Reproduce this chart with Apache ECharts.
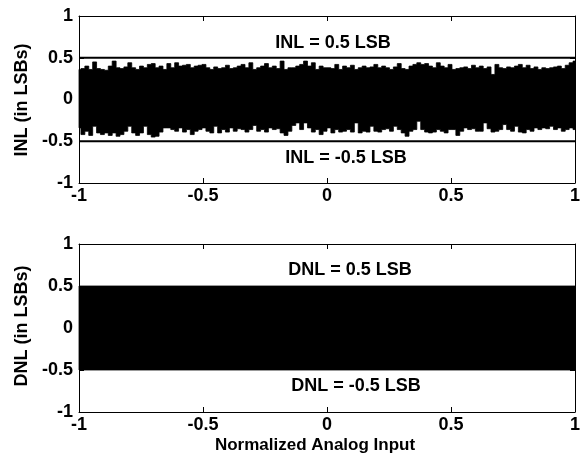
<!DOCTYPE html>
<html>
<head>
<meta charset="utf-8">
<script src="https://cdn.jsdelivr.net/npm/echarts@6/dist/echarts.min.js"></script>
<style>
html,body{margin:0;padding:0;background:#fff;}
#c{width:583px;height:460px;}
</style>
</head>
<body>
<div id="c"></div>
<script>
// ---- data ----
var xTicks = [-1, -0.5, 0, 0.5, 1];
var yTicks = [-1, -0.5, 0, 0.5, 1];
// INL: upper and lower envelope of the dense INL trace (LSB), sampled evenly over x = -1..1
var inlUpper = [0.36,0.37,0.40,0.36,0.45,0.37,0.36,0.35,0.40,0.46,0.38,0.37,0.39,0.44,0.38,0.36,0.40,0.38,0.42,0.43,0.38,0.40,0.36,0.43,0.38,0.44,0.40,0.41,0.42,0.38,0.40,0.41,
  0.42,0.38,0.36,0.39,0.37,0.38,0.41,0.37,0.38,0.40,0.42,0.38,0.44,0.36,0.38,0.40,0.43,0.38,0.40,0.37,0.46,0.36,0.38,0.38,0.40,0.42,0.46,0.40,0.44,0.36,0.40,0.38,
  0.38,0.37,0.42,0.36,0.40,0.38,0.41,0.36,0.38,0.40,0.38,0.39,0.42,0.38,0.40,0.38,0.36,0.39,0.43,0.37,0.36,0.40,0.42,0.44,0.42,0.43,0.40,0.38,0.44,0.40,0.38,0.42,
  0.36,0.37,0.38,0.39,0.37,0.41,0.38,0.40,0.37,0.39,0.30,0.42,0.38,0.37,0.39,0.38,0.40,0.42,0.38,0.41,0.37,0.39,0.36,0.38,0.37,0.38,0.39,0.40,0.37,0.41,0.44,0.46];
var inlLower = [-0.34,-0.42,-0.38,-0.43,-0.32,-0.40,-0.42,-0.40,-0.43,-0.40,-0.44,-0.42,-0.38,-0.32,-0.40,-0.43,-0.40,-0.32,-0.42,-0.45,-0.44,-0.39,-0.34,-0.34,-0.36,-0.38,-0.34,-0.39,-0.36,-0.42,-0.38,-0.36,
  -0.34,-0.38,-0.40,-0.32,-0.40,-0.36,-0.39,-0.34,-0.38,-0.35,-0.36,-0.39,-0.36,-0.31,-0.38,-0.36,-0.39,-0.34,-0.36,-0.35,-0.40,-0.43,-0.38,-0.31,-0.28,-0.36,-0.28,-0.34,-0.39,-0.36,-0.42,-0.38,
  -0.34,-0.40,-0.36,-0.39,-0.38,-0.36,-0.39,-0.28,-0.40,-0.38,-0.39,-0.32,-0.38,-0.39,-0.36,-0.35,-0.38,-0.32,-0.36,-0.40,-0.44,-0.38,-0.36,-0.26,-0.36,-0.39,-0.40,-0.39,-0.36,-0.38,-0.40,-0.36,
  -0.36,-0.43,-0.38,-0.34,-0.36,-0.35,-0.38,-0.38,-0.28,-0.35,-0.39,-0.38,-0.36,-0.30,-0.36,-0.38,-0.32,-0.39,-0.40,-0.36,-0.38,-0.34,-0.36,-0.34,-0.35,-0.32,-0.36,-0.34,-0.38,-0.36,-0.34,-0.36];
var inlLimits = [0.5, -0.5];
// DNL: dense trace fills the band between these envelopes
var dnlX = [-1, 1];
var dnlUpper = [0.5, 0.5];
var dnlLower = [-0.5, -0.5];
var labels = {
  inlHi: 'INL = 0.5 LSB', inlLo: 'INL = -0.5 LSB',
  dnlHi: 'DNL = 0.5 LSB', dnlLo: 'DNL = -0.5 LSB',
  inlY: 'INL (in LSBs)', dnlY: 'DNL (in LSBs)', x: 'Normalized Analog Input'
};

// ---- build ----
var FONT = '"Liberation Sans", Arial, Helvetica, sans-serif';
var n = inlUpper.length;
var inlX = inlUpper.map(function(v,i){ return -1 + 2 * i / (n - 1); });

function xAx(grid, pos, showLabel){
  return {type:'value', gridIndex:grid, position:pos, min:-1, max:1, interval:0.5,
    axisLine:{show:true, onZero:false, lineStyle:{color:'#000', width:1}},
    axisTick:{show:true, inside:true, length:5, lineStyle:{color:'#000'}},
    axisLabel:{show:showLabel, color:'#000', fontFamily:FONT, fontWeight:'bold', fontSize:18, margin:4},
    splitLine:{show:false}, z:5};
}
function yAx(grid, pos, showLabel){
  return {type:'value', gridIndex:grid, position:pos, min:-1, max:1, interval:0.5,
    axisLine:{show:true, onZero:false, lineStyle:{color:'#000', width:1}},
    axisTick:{show:true, inside:true, length:5, lineStyle:{color:'#000'}},
    axisLabel:{show:showLabel, color:'#000', fontFamily:FONT, fontWeight:'bold', fontSize:18, margin:6},
    splitLine:{show:false}, z:5};
}
// filled envelope band drawn as one stepped polygon through the axis scales
function band(xs, up, lo, xi, yi, stepped){
  var rows = xs.map(function(x,i){ return [x, up[i], lo[i]]; });
  return {type:'custom', xAxisIndex:xi, yAxisIndex:yi, silent:true, animation:false,
    data: rows, encode:{x:0, y:[1,2]},
    renderItem: function(params, api){
      if (params.dataIndex !== 0) return null;
      var m = rows.length, pts = [];
      function edges(i){
        var a = i > 0 ? (rows[i-1][0] + rows[i][0]) / 2 : rows[i][0];
        var b = i < m - 1 ? (rows[i][0] + rows[i+1][0]) / 2 : rows[i][0];
        return [a, b];
      }
      for (var i = 0; i < m; i++) {
        if (stepped) { var e = edges(i); pts.push(api.coord([e[0], rows[i][1]])); pts.push(api.coord([e[1], rows[i][1]])); }
        else pts.push(api.coord([rows[i][0], rows[i][1]]));
      }
      for (var j = m - 1; j >= 0; j--) {
        if (stepped) { var f = edges(j); pts.push(api.coord([f[1], rows[j][2]])); pts.push(api.coord([f[0], rows[j][2]])); }
        else pts.push(api.coord([rows[j][0], rows[j][2]]));
      }
      return {type:'polygon', shape:{points:pts},
        style:{fill:'#000', stroke:'#000', lineWidth:0.8}};
    }};
}
function hline(v, xi, yi){
  return {type:'line', xAxisIndex:xi, yAxisIndex:yi, data:[[-1,v],[1,v]], symbol:'none', silent:true,
    lineStyle:{color:'#000', width:2}, animation:false, z:3};
}
function txt(t, x, y, rot, size){
  return {type:'text', x:x, y:y, rotation:rot||0, silent:true,
    style:{text:t, fill:'#000', font:'bold ' + (size||18) + 'px ' + FONT, align:'center', verticalAlign:'middle'}};
}

var option = {
  backgroundColor:'#fff',
  animation:false,
  grid:[{left:79, top:16, width:501, height:167},
        {left:79, top:244, width:501, height:168}],
  xAxis:[xAx(0,'bottom',true), xAx(0,'top',false), xAx(1,'bottom',true), xAx(1,'top',false)],
  yAxis:[yAx(0,'left',true), yAx(0,'right',false), yAx(1,'left',true), yAx(1,'right',false)],
  series:[
    band(inlX, inlUpper, inlLower, 0, 0, true),
    hline(inlLimits[0],0,0), hline(inlLimits[1],0,0),
    band(dnlX, dnlUpper, dnlLower, 2, 2, false)
  ],
  graphic:[
    txt(labels.inlHi, 333, 43), txt(labels.inlLo, 346, 158),
    txt(labels.dnlHi, 350, 270), txt(labels.dnlLo, 356, 386),
    txt(labels.inlY, 22, 100, Math.PI/2), txt(labels.dnlY, 22, 326, Math.PI/2),
    txt(labels.x, 315, 445, 0, 17)
  ]
};
var chart = echarts.init(document.getElementById('c'), null, {renderer:'canvas'});
chart.setOption(option);
</script>
</body>
</html>
